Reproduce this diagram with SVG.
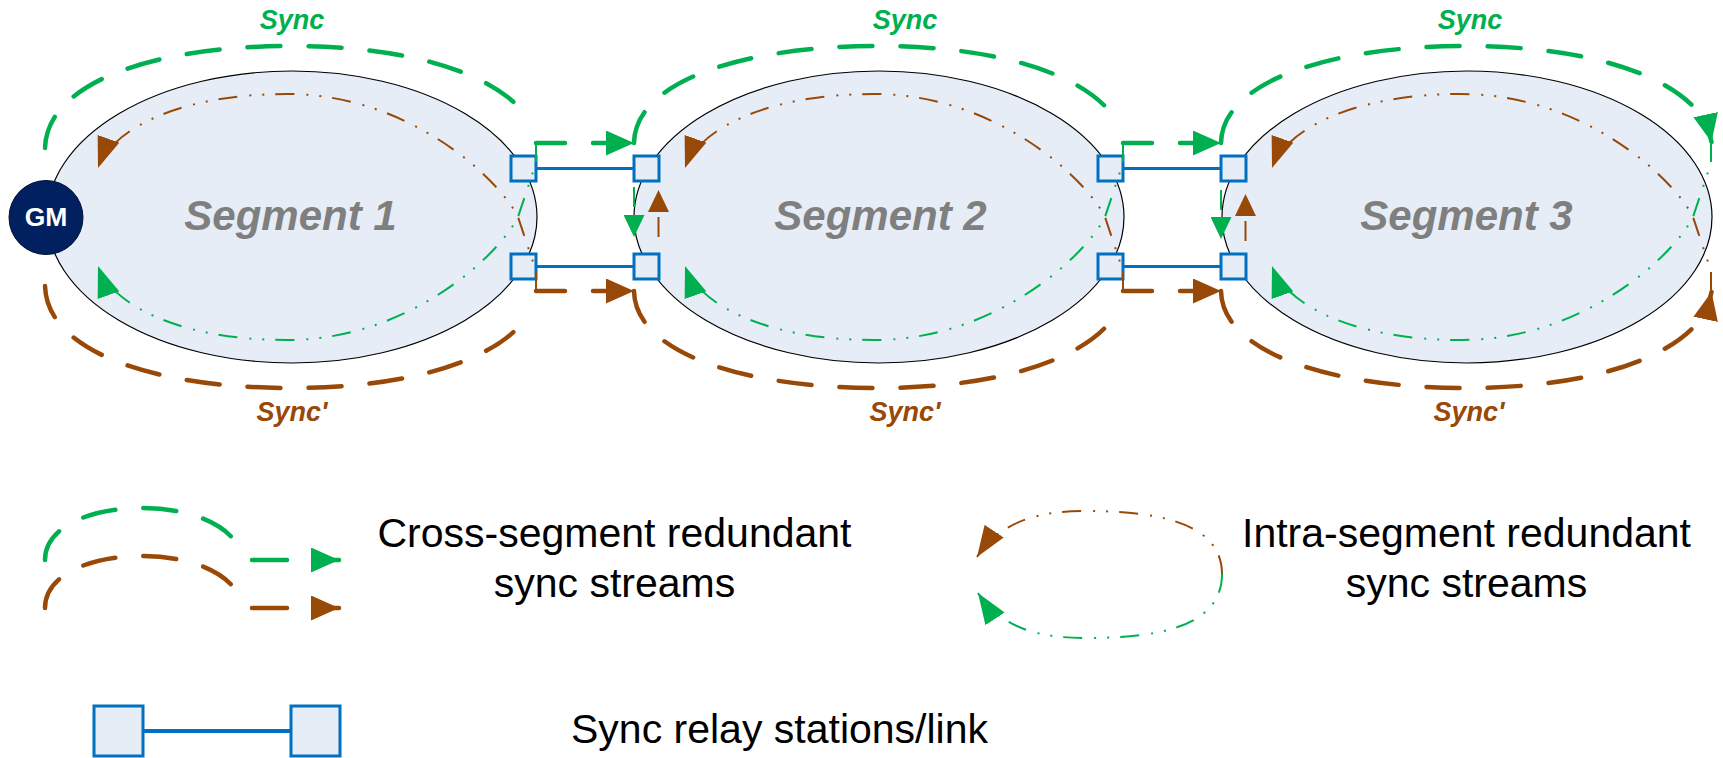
<svg xmlns="http://www.w3.org/2000/svg" width="1723" height="758" viewBox="0 0 1723 758">
<style>
.seg{fill:#E6EDF7;stroke:#000;stroke-width:1.2}
.box{fill:#E6EDF7;stroke:#0070C0;stroke-width:3}
.link{fill:none;stroke:#0070C0;stroke-width:3}
.xg{fill:none;stroke:#00B050;stroke-width:4.5;stroke-linecap:round;stroke-dasharray:33 28}
.xb{fill:none;stroke:#984807;stroke-width:4.5;stroke-linecap:round;stroke-dasharray:33 28}
.hg{fill:none;stroke:#00B050;stroke-width:4.5;stroke-linecap:round;stroke-dasharray:29 28}
.hb{fill:none;stroke:#984807;stroke-width:4.5;stroke-linecap:round;stroke-dasharray:29 28}
.ig{fill:none;stroke:#00B050;stroke-width:2;stroke-dasharray:19 11 2 11 2 12}
.ib{fill:none;stroke:#984807;stroke-width:2;stroke-dasharray:19 11 2 11 2 12}
.sg{fill:none;stroke:#00B050;stroke-width:2;stroke-dasharray:20 100}
.sb{fill:none;stroke:#984807;stroke-width:2;stroke-dasharray:20 100}
.lbl{font-family:"Liberation Sans",Arial,sans-serif;font-weight:bold;font-style:italic;font-size:27px;text-anchor:middle}
.segt{font-family:"Liberation Sans",Arial,sans-serif;font-weight:bold;font-style:italic;font-size:42px;text-anchor:middle;fill:#7F7F7F}
.leg{font-family:"Liberation Sans",Arial,sans-serif;font-size:41px;fill:#000}
</style>
<defs>
<marker id="aG" markerUnits="userSpaceOnUse" markerWidth="28" markerHeight="25" viewBox="0 0 28 25" refX="28" refY="12.5" orient="auto"><path d="M0,0 L28,12.5 L0,25 z" fill="#00B050"/></marker>
<marker id="aB" markerUnits="userSpaceOnUse" markerWidth="28" markerHeight="25" viewBox="0 0 28 25" refX="28" refY="12.5" orient="auto"><path d="M0,0 L28,12.5 L0,25 z" fill="#984807"/></marker>
<marker id="iG" markerUnits="userSpaceOnUse" markerWidth="31" markerHeight="23" viewBox="0 0 31 23" refX="31" refY="11.5" orient="auto"><path d="M0,0 L31,11.5 L0,23 z" fill="#00B050"/></marker>
<marker id="iB" markerUnits="userSpaceOnUse" markerWidth="31" markerHeight="23" viewBox="0 0 31 23" refX="31" refY="11.5" orient="auto"><path d="M0,0 L31,11.5 L0,23 z" fill="#984807"/></marker>
<marker id="sG" markerUnits="userSpaceOnUse" markerWidth="22" markerHeight="21" viewBox="0 0 22 21" refX="22" refY="10.5" orient="auto"><path d="M0,0 L22,10.5 L0,21 z" fill="#00B050"/></marker>
<marker id="sB" markerUnits="userSpaceOnUse" markerWidth="22" markerHeight="21" viewBox="0 0 22 21" refX="22" refY="10.5" orient="auto"><path d="M0,0 L22,10.5 L0,21 z" fill="#984807"/></marker>
</defs>

<g id="segment1"><ellipse class="seg" cx="292" cy="217" rx="245" ry="146"/><text class="segt" x="290.5" y="230">Segment 1</text></g>
<g id="segment2"><ellipse class="seg" cx="879" cy="217" rx="245" ry="146"/><text class="segt" x="880.5" y="230">Segment 2</text></g>
<g id="segment3"><ellipse class="seg" cx="1467" cy="217" rx="245" ry="146"/><text class="segt" x="1466.5" y="230">Segment 3</text></g>

<g id="gm"><circle cx="46" cy="217.5" r="37" fill="#002060" stroke="#001030" stroke-width="1"/><text x="46" y="226" font-family="Liberation Sans, Arial, sans-serif" font-weight="bold" font-size="26.5" fill="#fff" text-anchor="middle">GM</text></g>

<g id="relay-s1-top"><rect class="box" x="511" y="156" width="25" height="25"/></g>
<g id="relay-s1-bottom"><rect class="box" x="511" y="254" width="25" height="25"/></g>
<g id="relay-s2-left-top"><rect class="box" x="634" y="156" width="25" height="25"/></g>
<g id="relay-s2-left-bottom"><rect class="box" x="634" y="254" width="25" height="25"/></g>
<g id="relay-s2-right-top"><rect class="box" x="1098" y="156" width="25" height="25"/></g>
<g id="relay-s2-right-bottom"><rect class="box" x="1098" y="254" width="25" height="25"/></g>
<g id="relay-s3-top"><rect class="box" x="1221" y="156" width="25" height="25"/></g>
<g id="relay-s3-bottom"><rect class="box" x="1221" y="254" width="25" height="25"/></g>

<g id="labels">
<text class="lbl" x="292" y="29" fill="#00B050">Sync</text>
<text class="lbl" x="905" y="29" fill="#00B050">Sync</text>
<text class="lbl" x="1470" y="29" fill="#00B050">Sync</text>
<text class="lbl" x="292" y="421" fill="#984807">Sync'</text>
<text class="lbl" x="905" y="421" fill="#984807">Sync'</text>
<text class="lbl" x="1469" y="421" fill="#984807">Sync'</text>
</g>

<g id="connectors">
<path class="link" d="M536,168.5 L634,168.5 M536,266.5 L634,266.5 M1123,168.5 L1221,168.5 M1123,266.5 L1221,266.5"/>
<path class="xg" d="M45,148 C47,80 160,46 290,46 C420,46 500,78 527,117"/>
<path class="xg" d="M634,143 C635,80 747,46 877,46 C1007,46 1087,78 1114,117"/>
<path class="xg" d="M1221,143 C1222,80 1335,46 1465,46 C1595,46 1675,78 1702,117 C1705,121.5 1708.5,128 1711.5,142" marker-end="url(#aG)"/>
<path class="xb" d="M45,286 C47,354 160,388 290,388 C420,388 500,356 527,317"/>
<path class="xb" d="M634,291 C635,354 747,388 877,388 C1007,388 1087,356 1114,317"/>
<path class="xb" d="M1221,291 C1222,354 1335,388 1465,388 C1595,388 1675,356 1702,317 C1705,312.5 1708.5,306 1711.5,292" marker-end="url(#aB)"/>
<path class="hg" d="M536,143 L634,143" marker-end="url(#aG)"/>
<path class="hg" d="M1123,143 L1221,143" marker-end="url(#aG)"/>
<path class="hb" d="M536,291 L634,291" marker-end="url(#aB)"/>
<path class="hb" d="M1123,291 L1221,291" marker-end="url(#aB)"/>
<path class="ig" d="M536,143 L536,163 L518,217 C500,254 410,340 287,340 C180,340 112,305 98,266" marker-end="url(#iG)"/>
<path class="ib" d="M536,291 L536,271 L518,217 C500,180 410,94 287,94 C180,94 112,129 98,168" marker-end="url(#iB)"/>
<path class="ig" d="M1123,143 L1123,163 L1105,217 C1087,254 997,340 874,340 C767,340 699,305 685,266" marker-end="url(#iG)"/>
<path class="ib" d="M1123,291 L1123,271 L1105,217 C1087,180 997,94 874,94 C767,94 699,129 685,168" marker-end="url(#iB)"/>
<path class="ig" d="M1711,143 L1711,163 L1693,217 C1675,254 1585,340 1461,340 C1354,340 1286,305 1272,266" marker-end="url(#iG)"/>
<path class="ib" d="M1711,291 L1711,271 L1693,217 C1675,180 1585,94 1461,94 C1354,94 1286,129 1272,168" marker-end="url(#iB)"/>
<path class="sg" d="M634,187 L634,237" marker-end="url(#sG)"/>
<path class="sb" d="M658.5,237 L658.5,190" marker-end="url(#sB)"/>
<path class="sg" d="M1221,190 L1221,239" marker-end="url(#sG)"/>
<path class="sb" d="M1245.5,241 L1245.5,194" marker-end="url(#sB)"/>
</g>

<g id="legend-cross">
<path class="xg" d="M45,560 C45,495 215,490 240,550"/>
<path class="hg" d="M252,560 L339,560" marker-end="url(#aG)" style="stroke-dasharray:35 40"/>
<path class="xb" d="M45,608 C45,543 215,538 240,598"/>
<path class="hb" d="M252,608 L339,608" marker-end="url(#aB)" style="stroke-dasharray:35 40"/>
<text class="leg" x="614.5" y="547" text-anchor="middle">Cross-segment redundant</text>
<text class="leg" x="614.5" y="597" text-anchor="middle">sync streams</text>
</g>
<g id="legend-intra">
<path class="ib" d="M1222,574 C1222,520 1150,511 1086,511 C1045,511 1003,518 977,557" marker-end="url(#iB)"/>
<path class="ig" d="M1222,574 C1222,630 1150,638 1086,638 C1045,638 1003,631 978,593" marker-end="url(#iG)"/>
<text class="leg" x="1466.5" y="547" text-anchor="middle">Intra-segment redundant</text>
<text class="leg" x="1466.5" y="597" text-anchor="middle">sync streams</text>
</g>
<g id="legend-relay">
<line class="link" x1="143" y1="731" x2="291" y2="731" style="stroke-width:4"/>
<rect class="box" x="94" y="706" width="49" height="50"/>
<rect class="box" x="291" y="706" width="49" height="50"/>
<text class="leg" x="571" y="743">Sync relay stations/link</text>
</g>
</svg>
